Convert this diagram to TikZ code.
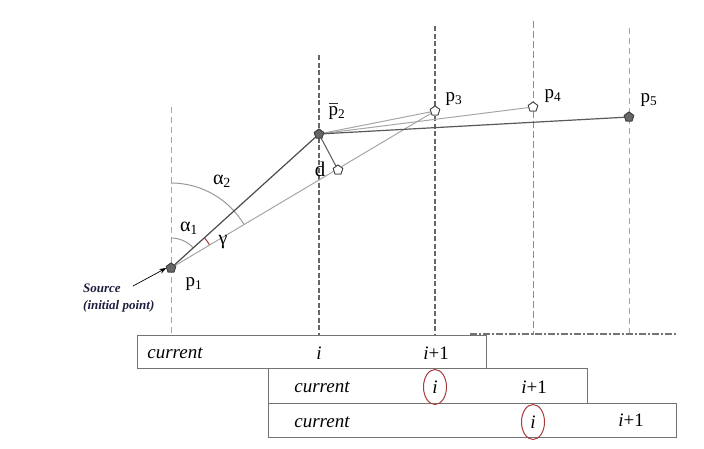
\documentclass[tikz,border=0pt]{standalone}
\usepackage{fontspec}
\setmainfont{Liberation Serif}
\usetikzlibrary{shapes.geometric,arrows.meta}
\definecolor{navy}{HTML}{1F1F40}
\definecolor{circred}{HTML}{A83A3A}
\tikzset{
  vline/.style={dash pattern=on 6pt off 4pt},
  thickv/.style={dash pattern=on 5pt off 2.5pt,black!60,line width=1.8pt},
  pt/.style={regular polygon,regular polygon sides=5,minimum size=10pt,inner sep=0pt,draw=black!75,line width=0.8pt},
  fullpt/.style={pt,fill=black!60},
  openpt/.style={pt,fill=white},
  lbl/.style={font=\fontsize{19}{21}\selectfont,inner sep=0pt},
  boxst/.style={draw=black!55,line width=1pt,inner sep=0pt},
  btxt/.style={font=\fontsize{19}{21}\selectfont\itshape,inner sep=0pt},
  ring/.style={draw=circred,line width=1pt,ellipse,minimum width=23pt,minimum height=35pt,inner sep=0pt},
}
\begin{document}
\begin{tikzpicture}[x=1pt,y=-1pt]
\useasboundingbox (0,0) rectangle (704,448);
% vertical guide lines
\coordinate (v1t) at (171,107); \coordinate (v1b) at (171,335);
\coordinate (v2t) at (319,55);  \coordinate (v2b) at (319,335);
\coordinate (v3t) at (435,26);  \coordinate (v3b) at (435,335);
\coordinate (v4t) at (533,21);  \coordinate (v4b) at (533,335);
\coordinate (v5t) at (629,28);  \coordinate (v5b) at (629,335);
\draw[vline,black!35,line width=0.7pt] (v1t) -- (v1b);
\draw[thickv] (v2t) -- (v2b);
\draw[thickv] (v3t) -- (v3b);
\draw[dash pattern=on 7pt off 3pt,black!45,line width=1pt] (v4t) -- (v4b);
\draw[vline,black!35,line width=0.7pt] (v5t) -- (v5b);
\coordinate (hl) at (470,334); \coordinate (hr) at (676,334);
\draw[black!55,line width=1.6pt,dash pattern=on 7pt off 2pt on 2pt off 2pt] (hl) -- (hr);

% points
\node[fullpt] (p1) at (171,268) {};
\node[fullpt] (p2) at (319,134) {};
\node[openpt] (p3) at (435,111) {};
\node[openpt] (p4) at (533,107) {};
\node[fullpt] (p5) at (629,117) {};
\node[openpt] (pd) at (338,170) {};

% angle arcs
\draw[black!40,line width=1pt] (p1.center) ++(-90:85) arc[start angle=-90,end angle=-30.7,radius=85];
\draw[black!40,line width=1pt] (p1.center) ++(-90:30) arc[start angle=-90,end angle=-42.2,radius=30];
\draw[circred,line width=1pt] (p1.center) ++(-42.2:45) arc[start angle=-42.2,end angle=-30.7,radius=45];

% connectors
\draw[black!35,line width=1pt] (p1.center) -- (p3.center);
\draw[black!35,line width=1pt] (p2.center) -- (p3.center);
\draw[black!35,line width=1pt] (p2.center) -- (p4.center);
\draw[black!70,line width=1.2pt] (p1.center) -- (p2.center);
\draw[black!65,line width=1.2pt] (p2.center) -- (p5.center);
\draw[black!65,line width=1pt] (p2.center) -- (pd);
\node[fullpt] at (p1) {};
\node[fullpt] at (p2) {};
\node[openpt] at (p3) {};
\node[openpt] at (p4) {};
\node[fullpt] at (p5) {};
\node[openpt] at (pd) {};

% labels
\node[lbl] (l1) at (194,284) {p\textsubscript{1}};
\node[lbl] (l2) at (337,113) {p\textsubscript{2}};
\draw[black!80,line width=1pt] ([xshift=-8pt,yshift=9.5pt]l2.center) -- ([xshift=1pt,yshift=9.5pt]l2.center);
\node[lbl] (l3) at (454,99) {p\textsubscript{3}};
\node[lbl] (l4) at (553,96) {p\textsubscript{4}};
\node[lbl] (l5) at (649,100) {p\textsubscript{5}};
\node[lbl,font=\fontsize{21}{23}\selectfont] (ld) at (320,169) {d};
\node[lbl,font=\fontsize{20}{22}\selectfont] (la2) at (222,181) {α\textsubscript{2}};
\node[lbl,font=\fontsize{20}{22}\selectfont] (la1) at (189,228) {α\textsubscript{1}};
\node[lbl,font=\fontsize{20}{22}\selectfont] (lg) at (223,242) {γ};

% source annotation
\node[font=\fontsize{13}{17}\selectfont\bfseries\itshape,text=navy,align=left,inner sep=0pt,anchor=west] (src) at (83,298) {Source\\(initial point)};
\coordinate (arrs) at (133,286);
\draw[-{Stealth[length=7pt,width=5pt]},line width=0.7pt] (arrs) -- (p1.west);

% boxes
\node[boxst,minimum width=349pt,minimum height=33pt] (b1) at (311.5,351.5) {};
\node[boxst,minimum width=319pt,minimum height=35pt] (b2) at (427.5,385.5) {};
\node[boxst,minimum width=408pt,minimum height=34pt] (b3) at (472,420) {};

\node[btxt] (c1) at (175,353) {current};
\node[btxt] (i1) at (319,353) {i};
\node[btxt] (j1) at (436,353) {i\upshape+1};
\node[btxt] (c2) at (322,387) {current};
\node[btxt] (i2) at (435,387) {i};
\node[btxt] (j2) at (534,387) {i\upshape+1};
\node[btxt] (c3) at (322,422) {current};
\node[btxt] (i3) at (533,422) {i};
\node[btxt] (j3) at (631,420) {i\upshape+1};
\node[ring] (r2) at (i2) {};
\node[ring] (r3) at (i3) {};
\end{tikzpicture}
\end{document}
